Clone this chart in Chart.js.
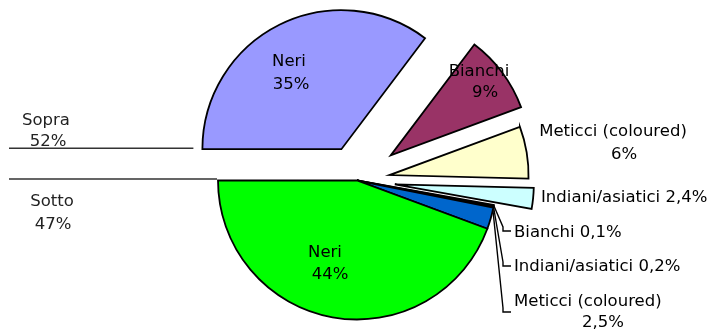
<!DOCTYPE html>
<html><head><meta charset="utf-8">
<style>html,body{margin:0;padding:0;background:#fff}#wrap{width:717px;height:332px;position:relative}</style>
<script src="https://cdn.jsdelivr.net/npm/chart.js@4.4.0/dist/chart.umd.min.js"></script>
</head><body><div id="wrap"><canvas id="c" width="717" height="332"></canvas></div>
<script>
// ---- data ----
const categories = ['Neri', 'Bianchi', 'Meticci (coloured)', 'Indiani/asiatici', 'Bianchi', 'Indiani/asiatici', 'Meticci (coloured)', 'Neri'];
const groups = ['Sopra', 'Sopra', 'Sopra', 'Sopra', 'Sotto', 'Sotto', 'Sotto', 'Sotto'];
const values = [35, 9, 6, 2.4, 0.1, 0.2, 2.5, 44];
const valueLabels = ['35%', '9%', '6%', '2,4%', '0,1%', '0,2%', '2,5%', '44%'];
const groupNames = ['Sopra', 'Sotto'];
const groupLabels = ['52%', '47%'];

// ---- style ----
const colors = ['#9999FF', '#993366', '#FFFFCC', '#CCFFFF', '#660066', '#FF8080', '#0066CC', '#00FF00'];
const explode = [35, 42, 33, 38, 0, 0, 0, 0];
const FONT = '16.5px "DejaVu Sans", Verdana, sans-serif';

// text placement: [x, y, align]
const labelPlace = [
  [[289, 62, 'center'], [291, 85, 'center']],
  [[479, 72, 'center'], [485, 93, 'center']],
  [[613, 132, 'center'], [624, 155, 'center']],
  [[541, 198, 'left']],
  [[514, 233, 'left']],
  [[514, 267, 'left']],
  [[514, 302, 'left'], [603, 323, 'center']],
  [[325, 253, 'center'], [330, 275, 'center']]
];
const leaderY = {4: 231, 5: 266, 6: 312};
const groupPlace = [[[46, 121], [48, 142]], [[52, 202], [53, 225]]];

const explodePlugin = {
  id: 'explode',
  afterDatasetUpdate(chart, args) {
    const arcs = args.meta.data;
    arcs.forEach((a, i) => {
      const d = explode[i] || 0;
      const mid = (a.startAngle + a.endAngle) / 2;
      a.x += Math.cos(mid) * d;
      a.y += Math.sin(mid) * d;
    });
  }
};

const textPlugin = {
  id: 'texts',
  afterDraw(chart) {
    const ctx = chart.ctx;
    const arcs = chart.getDatasetMeta(0).data;
    ctx.save();
    ctx.font = FONT;
    ctx.fillStyle = '#000';
    ctx.textBaseline = 'middle';
    // leader lines for tiny slices
    ctx.strokeStyle = '#000';
    ctx.lineWidth = 1.4;
    Object.keys(leaderY).forEach(k => {
      const i = +k, a = arcs[i];
      const ang = i === 6 ? a.startAngle + (a.endAngle - a.startAngle) * 0.1 : (a.startAngle + a.endAngle) / 2;
      const sx = a.x + Math.cos(ang) * a.outerRadius, sy = a.y + Math.sin(ang) * a.outerRadius;
      const y = leaderY[i];
      ctx.beginPath();
      ctx.moveTo(sx, sy);
      ctx.lineTo(503, y - 4);
      ctx.lineTo(503, y);
      ctx.lineTo(511, y);
      ctx.stroke();
    });
    // slice labels
    labelPlace.forEach((pl, i) => {
      const lines = pl.length === 2 ? [categories[i], valueLabels[i]] : [categories[i] + ' ' + valueLabels[i]];
      pl.forEach((p, j) => {
        ctx.textAlign = p[2];
        ctx.fillText(lines[j], p[0], p[1]);
      });
    });
    // group lines and labels
    const top = arcs[0], bot = arcs[7];
    ctx.strokeStyle = '#333';
    ctx.lineWidth = 1.6;
    ctx.beginPath();
    ctx.moveTo(9, top.y - 1);
    ctx.lineTo(top.x - top.outerRadius - 9, top.y - 1);
    ctx.moveTo(9, bot.y - 1.5);
    ctx.lineTo(bot.x - bot.outerRadius - 1, bot.y - 1.5);
    ctx.stroke();
    ctx.fillStyle = '#222';
    ctx.textAlign = 'center';
    groupPlace.forEach((gp, g) => {
      ctx.fillText(groupNames[g], gp[0][0], gp[0][1]);
      ctx.fillText(groupLabels[g], gp[1][0], gp[1][1]);
    });
    ctx.restore();
  }
};

new Chart(document.getElementById('c'), {
  type: 'pie',
  data: {
    labels: categories.map((c, i) => groups[i] + ' - ' + c),
    datasets: [{
      data: values,
      backgroundColor: colors,
      borderColor: '#000',
      borderWidth: 1.8,
      borderJoinStyle: 'miter'
    }]
  },
  options: {
    responsive: false,
    animation: false,
    events: [],
    rotation: 270,
    radius: 139,
    layout: { padding: { left: 0, right: 3, top: 29, bottom: 0 } },
    plugins: { legend: { display: false }, tooltip: { enabled: false } }
  },
  plugins: [explodePlugin, textPlugin]
});
</script>
</body></html>
